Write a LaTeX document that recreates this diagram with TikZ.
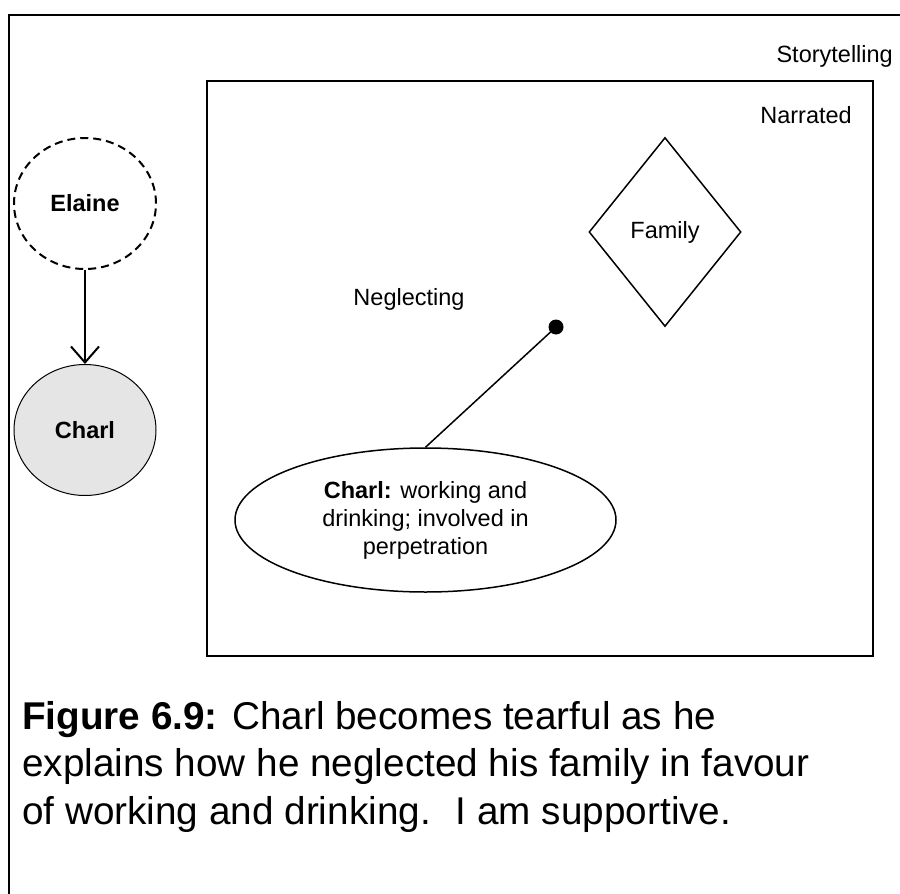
\documentclass[tikz,border=0pt]{standalone}
\usepackage{fontspec}
\setmainfont{Liberation Sans}
\usetikzlibrary{positioning,shapes.geometric,arrows.meta}

\begin{document}
\begin{tikzpicture}[x=1pt, y=-1pt,
        lbl/.style={inner sep=0pt, font=\fontsize{23.5}{28}\selectfont},
        person/.style={ellipse, draw=black, minimum width=142pt, minimum height=131pt, inner sep=0pt, font=\fontsize{23.5}{28}\selectfont\bfseries}]
        \useasboundingbox (0,0) rectangle (900,894);

        % Storytelling frame
        \draw[line width=2.5pt] (9,894) -- (9,15) -- (900,15);
        \node[lbl, anchor=base east] (story) at (893,62) {Storytelling};

        % Narrated frame
        \node[draw=black, line width=2.2pt, minimum width=666pt, minimum height=575pt, inner sep=0pt] (narr) at (540,368.5) {};
        \node[lbl, anchor=base east] (narrlbl) at (852,123) {Narrated};

        % People
        \node[person, dash pattern=on 8pt off 5pt, line width=2pt] (elaine) at (85,203.5) {Elaine};
        \node[person, fill=black!10, line width=1pt] (charl) at (85,430) {Charl};
        \draw[line width=2pt, -{Straight Barb[length=16pt, width=28pt]}] (elaine) -- (charl);

        % Family
        \node[diamond, draw=black, line width=1.5pt, minimum width=152pt, minimum height=189pt, inner sep=0pt, font=\fontsize{23.5}{28}\selectfont] (family) at (665,232) {Family};

        % Neglecting
        \node[lbl, anchor=base] (negl) at (409,305) {Neglecting};
        \node[circle, fill=black, minimum size=15pt, inner sep=0pt] (dot) at (556,327) {};
        \node[lbl, ellipse, draw=black, line width=1.5pt, minimum width=381pt, minimum height=144pt, align=center] (act) at (425.5,520) {\textbf{Charl:} working and\\drinking; involved in\\perpetration};
        \draw[line width=1.5pt] (dot.center) -- (act.north);

        % Caption
        \node[anchor=north west, inner sep=0pt, align=left, font=\fontsize{38.7}{47.5}\selectfont] (caption) at (22,701) {\textbf{Figure 6.9:} Charl becomes tearful as he\\explains how he neglected his family in favour\\of working and drinking.~ I am supportive.};
    \end{tikzpicture}
\end{document}
